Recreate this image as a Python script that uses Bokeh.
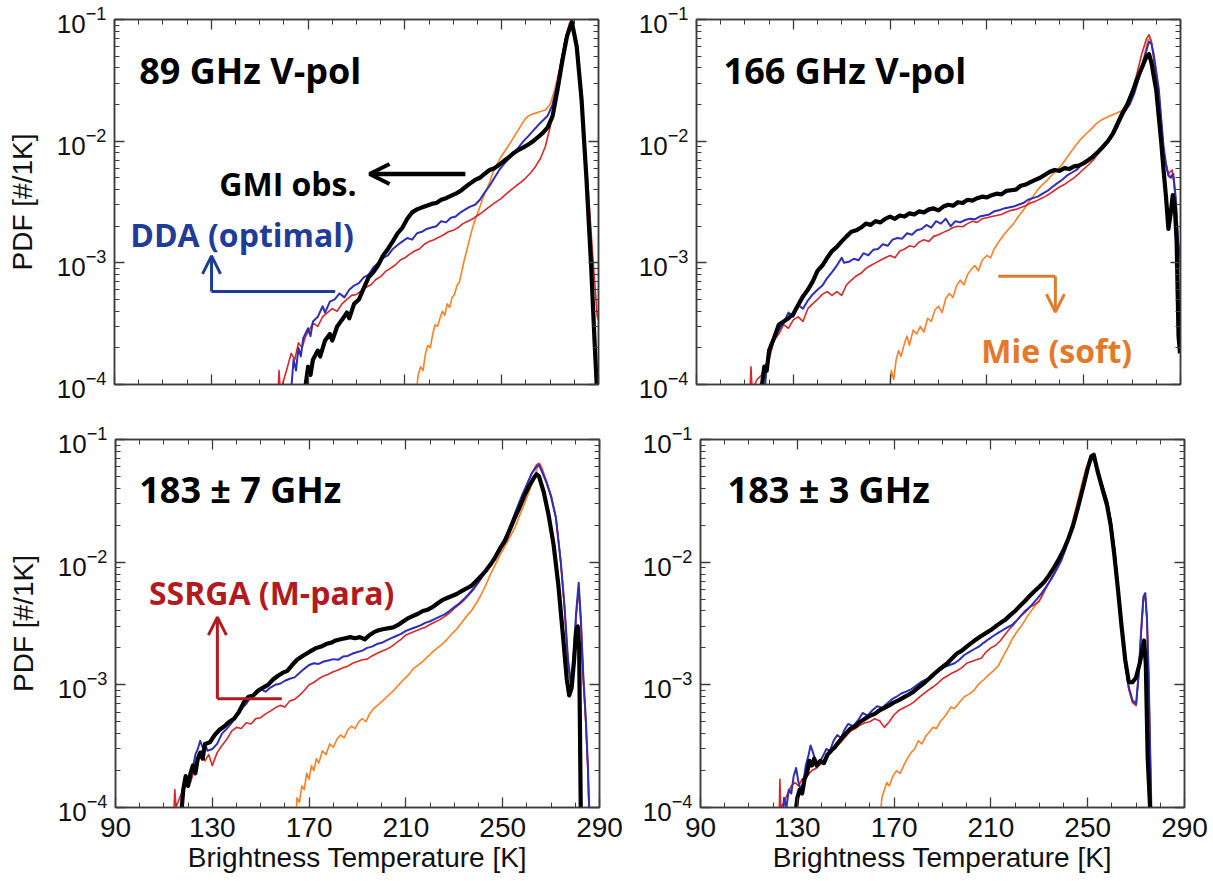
from bokeh.plotting import figure
from bokeh.layouts import column, row
from bokeh.models import (Label, Arrow, OpenHead, FixedTicker, LinearAxis, LogAxis,
                          LogTicker, CustomJSTickFormatter, Range1d)
from bokeh.embed import file_html
from bokeh.resources import INLINE

# ---------------- data ----------------
X_MAJOR_TICKS = [90, 130, 170, 210, 250, 290]
X_MINOR_TICKS = [100, 110, 120, 140, 150, 160, 180, 190, 200, 220, 230, 240, 260, 270, 280]

PANEL_TITLES = ["89 GHz V-pol", "166 GHz V-pol", "183 \u00b1 7 GHz", "183 \u00b1 3 GHz"]

# ---- 89 GHz V-pol ----
TL_GMI = [(169,1.0e-4),(170,1.4e-4),(171,1.2e-4),(172,1.6e-4),(174,1.9e-4),(175,1.7e-4),(177,2.3e-4),
          (179,2.6e-4),(180,2.3e-4),(182,3.0e-4),(184,3.4e-4),(186,3.9e-4),(187,3.5e-4),(189,4.6e-4),
          (191,5.0e-4),(193,6.2e-4),(195,7.6e-4),(197,8.4e-4),(199,9.6e-4),(201,1.15e-3),(203,1.3e-3),
          (205,1.5e-3),(207,1.75e-3),(209,1.95e-3),(211,2.3e-3),(213,2.6e-3),(215,2.75e-3),(217,2.85e-3),
          (219,2.95e-3),(221,3.05e-3),(223,3.1e-3),(225,3.3e-3),(227,3.4e-3),(229,3.55e-3),(231,3.7e-3),
          (233,3.9e-3),(235,4.2e-3),(237,4.5e-3),(239,4.8e-3),(241,5.0e-3),(243,5.4e-3),(245,5.8e-3),
          (247,6.0e-3),(249,6.4e-3),(251,6.9e-3),(253,7.4e-3),(255,8.0e-3),(257,8.5e-3),(259,8.9e-3),
          (261,9.4e-3),(263,1.0e-2),(265,1.08e-2),(267,1.17e-2),(269,1.3e-2),(271,1.6e-2),(273,2.6e-2),
          (275,4.5e-2),(277,7.3e-2),(279,9.5e-2),(281,6.0e-2),(283,2.2e-2),(285,5.0e-3),(287,9.0e-4),
          (288.5,2.0e-4),(289.5,8e-5)]
TL_DDA = [(163,9e-5),(164,1.6e-4),(165,1.3e-4),(166,2.0e-4),(167,1.7e-4),(168,2.4e-4),(170,2.9e-4),
          (171,2.5e-4),(172,3.3e-4),(174,3.6e-4),(176,4.4e-4),(177,3.9e-4),(179,4.8e-4),(181,5.0e-4),
          (183,5.6e-4),(185,5.2e-4),(187,6.0e-4),(189,6.5e-4),(191,6.8e-4),(193,7.6e-4),(195,8.0e-4),
          (197,9.2e-4),(199,1.0e-3),(201,1.1e-3),(203,1.15e-3),(205,1.3e-3),(207,1.4e-3),(209,1.5e-3),
          (211,1.6e-3),(213,1.55e-3),(215,1.75e-3),(217,1.8e-3),(219,1.9e-3),(221,1.95e-3),(223,2.0e-3),
          (225,2.2e-3),(227,2.15e-3),(229,2.35e-3),(231,2.4e-3),(233,2.6e-3),(235,2.75e-3),(237,2.9e-3),
          (239,3.0e-3),(241,3.3e-3),(243,3.8e-3),(245,4.3e-3),(247,5.0e-3),(249,5.8e-3),(251,6.5e-3),
          (253,7.2e-3),(255,8.0e-3),(257,8.9e-3),(259,1.0e-2),(261,1.1e-2),(263,1.22e-2),(265,1.35e-2),
          (267,1.48e-2),(269,1.62e-2),(271,2.0e-2),(273,3.0e-2),(275,5.0e-2),(277,7.8e-2),(279,9.6e-2),
          (281,6.2e-2),(283,2.3e-2),(285,5.5e-3),(287,1.0e-3),(288.5,2.2e-4),(289.3,8e-5)]
TL_SSRGA = [(157.5,8e-5),(158,1.3e-4),(158.5,9e-5),(160,1.1e-4),(161.5,1.4e-4),(163,1.8e-4),(164.5,1.6e-4),
            (166,2.2e-4),(167.5,2.0e-4),(169,2.5e-4),(170.5,2.8e-4),(172,3.2e-4),(174,3.0e-4),(176,3.6e-4),
            (178,3.9e-4),(180,4.2e-4),(182,4.0e-4),(184,4.6e-4),(186,5.0e-4),(188,5.4e-4),(190,5.5e-4),
            (192,5.9e-4),(194,6.3e-4),(196,6.6e-4),(198,7.3e-4),(200,7.7e-4),(202,8.5e-4),(204,9.0e-4),
            (206,9.6e-4),(208,1.05e-3),(210,1.1e-3),(212,1.18e-3),(214,1.25e-3),(216,1.3e-3),(218,1.42e-3),
            (220,1.5e-3),(222,1.55e-3),(224,1.62e-3),(226,1.7e-3),(228,1.8e-3),(230,1.85e-3),(232,1.95e-3),
            (234,2.1e-3),(236,2.2e-3),(238,2.3e-3),(240,2.45e-3),(242,2.6e-3),(244,2.8e-3),(246,3.0e-3),
            (248,3.2e-3),(250,3.4e-3),(252,3.7e-3),(254,4.0e-3),(256,4.3e-3),(258,4.6e-3),(260,5.0e-3),
            (262,5.5e-3),(264,6.2e-3),(266,7.2e-3),(268,9.0e-3),(270,1.3e-2),(272,2.2e-2),(274,3.9e-2),
            (276,6.5e-2),(278,9.3e-2),(279,1.0e-1),(281,6.5e-2),(283,2.5e-2),(285,6.5e-3),(286.5,2.4e-3),
            (288,9.0e-4),(289.5,3.6e-4),(290,3.4e-4)]
TL_MIE = [(214.5,8e-5),(215.5,1.2e-4),(216.5,1.4e-4),(217.5,1.3e-4),(218.5,1.8e-4),(219.5,2.1e-4),
          (220.5,2.0e-4),(221.5,2.6e-4),(222.5,3.1e-4),(223.5,3.0e-4),(224.5,3.5e-4),(225.5,4.0e-4),
          (226.5,3.7e-4),(227.5,4.6e-4),(228.5,4.3e-4),(229.5,5.2e-4),(230.5,5.5e-4),(231.5,6.5e-4),
          (232.5,6.9e-4),(233.5,8.5e-4),(234.5,1.05e-3),(235.5,1.25e-3),(236.5,1.5e-3),(237.5,1.8e-3),
          (238.5,2.1e-3),(239.5,2.4e-3),(240.5,2.7e-3),(242,3.3e-3),(243.5,3.9e-3),(245,4.6e-3),
          (246.5,5.6e-3),(248,6.4e-3),(249.5,7.3e-3),(251,8.1e-3),(252.5,9.0e-3),(254,1.0e-2),
          (255.5,1.12e-2),(257,1.25e-2),(258.5,1.4e-2),(260,1.55e-2),(262,1.65e-2),(264,1.7e-2),
          (266,1.75e-2),(268,1.8e-2),(270,2.0e-2),(272,2.7e-2),(274,4.0e-2),(276,6.5e-2),(278,9.0e-2),
          (279,9.7e-2),(281,6.0e-2),(283,2.3e-2),(285,5.5e-3),(287,1.0e-3),(288.5,2.3e-4),(289.3,8e-5)]

# ---- 166 GHz V-pol ----
TR_GMI = [(116.5,8e-5),(118,1.4e-4),(119,1.3e-4),(120,1.9e-4),(122,2.4e-4),(124,3.1e-4),(126,3.3e-4),
          (128,3.5e-4),(130,3.8e-4),(132,4.5e-4),(134,5.3e-4),(136,6.0e-4),(138,7.0e-4),(140,8.6e-4),
          (142,9.5e-4),(144,1.1e-3),(146,1.25e-3),(148,1.35e-3),(150,1.5e-3),(152,1.65e-3),(154,1.8e-3),
          (156,1.85e-3),(158,1.95e-3),(160,2.1e-3),(162,2.05e-3),(164,2.2e-3),(166,2.15e-3),(168,2.3e-3),
          (170,2.4e-3),(172,2.3e-3),(174,2.45e-3),(176,2.4e-3),(178,2.55e-3),(180,2.5e-3),(182,2.65e-3),
          (184,2.6e-3),(186,2.75e-3),(188,2.8e-3),(190,2.7e-3),(192,2.9e-3),(194,3.0e-3),(196,2.95e-3),
          (198,3.15e-3),(200,3.1e-3),(202,3.3e-3),(204,3.25e-3),(206,3.4e-3),(208,3.5e-3),(210,3.45e-3),
          (212,3.6e-3),(214,3.7e-3),(216,3.65e-3),(218,3.9e-3),(220,3.95e-3),(222,4.0e-3),(224,4.3e-3),
          (226,4.4e-3),(228,4.6e-3),(230,4.8e-3),(232,5.0e-3),(234,5.3e-3),(236,5.6e-3),(238,5.8e-3),
          (240,5.7e-3),(242,6.0e-3),(244,5.9e-3),(246,6.2e-3),(248,6.3e-3),(250,6.6e-3),(252,7.0e-3),
          (254,7.5e-3),(256,8.2e-3),(258,9.0e-3),(260,1.0e-2),(262,1.15e-2),(264,1.4e-2),(266,1.7e-2),
          (268,2.0e-2),(270,2.5e-2),(272,3.2e-2),(274,4.0e-2),(276,5.0e-2),(277,5.2e-2),(278,4.4e-2),
          (280,2.6e-2),(282,1.0e-2),(283,5.8e-3),(284,3.5e-3),(285,1.9e-3),(286,2.6e-3),(286.8,3.6e-3),
          (287.6,3.0e-3),(288.4,1.5e-3),(289.2,2.5e-4),(289.8,1.8e-4)]
TR_DDA = [(118,8e-5),(119,1.4e-4),(120,1.8e-4),(122,2.3e-4),(124,2.8e-4),(126,3.2e-4),(128,3.9e-4),
          (130,3.6e-4),(132,4.5e-4),(134,4.2e-4),(136,4.9e-4),(138,5.5e-4),(140,6.0e-4),(142,6.5e-4),
          (144,7.5e-4),(146,8.4e-4),(148,9.5e-4),(150,1.1e-3),(151,1.0e-3),(153,1.02e-3),(155,1.08e-3),
          (157,1.05e-3),(159,1.2e-3),(161,1.15e-3),(163,1.28e-3),(165,1.3e-3),(167,1.42e-3),(169,1.38e-3),
          (171,1.55e-3),(173,1.6e-3),(175,1.58e-3),(177,1.75e-3),(179,1.7e-3),(181,1.85e-3),(183,1.9e-3),
          (185,2.05e-3),(187,1.95e-3),(189,2.2e-3),(191,2.1e-3),(193,2.3e-3),(195,2.0e-3),(197,2.2e-3),
          (199,2.15e-3),(201,2.25e-3),(203,2.3e-3),(205,2.28e-3),(207,2.4e-3),(209,2.45e-3),(211,2.5e-3),
          (213,2.65e-3),(215,2.7e-3),(217,2.8e-3),(219,2.85e-3),(221,2.9e-3),(223,3.0e-3),(225,3.1e-3),
          (227,3.3e-3),(229,3.4e-3),(231,3.5e-3),(233,3.7e-3),(235,3.9e-3),(237,4.2e-3),(239,4.5e-3),
          (241,4.8e-3),(243,5.2e-3),(245,5.5e-3),(247,5.8e-3),(249,6.4e-3),(251,6.9e-3),(253,7.4e-3),
          (255,7.9e-3),(257,8.8e-3),(259,9.6e-3),(261,1.05e-2),(263,1.2e-2),(265,1.45e-2),(267,1.75e-2),
          (269,2.0e-2),(271,2.5e-2),(273,3.4e-2),(275,4.8e-2),(277,6.6e-2),(278,6.3e-2),(279,5.0e-2),
          (281,2.7e-2),(283,9.0e-3),(284,6.5e-3),(285,5.2e-3),(286,5.0e-3),(287,5.4e-3),(288,3.5e-3),
          (289,1.5e-3),(290,1.1e-3)]
TR_SSRGA = [(112,8e-5),(112.5,1.4e-4),(113,9e-5),(115,1.1e-4),(117,1.2e-4),(118.5,1.45e-4),(120,1.6e-4),
            (122,2.3e-4),(124,2.6e-4),(126,3.1e-4),(128,2.9e-4),(130,3.4e-4),(132,3.6e-4),(134,3.3e-4),
            (136,4.2e-4),(138,4.6e-4),(140,5.0e-4),(142,5.5e-4),(144,5.8e-4),(146,5.4e-4),(148,5.8e-4),
            (150,5.4e-4),(152,6.6e-4),(154,7.2e-4),(156,7.8e-4),(158,8.2e-4),(160,9.0e-4),(162,9.5e-4),
            (164,1.0e-3),(166,1.05e-3),(168,1.1e-3),(170,1.15e-3),(172,1.1e-3),(174,1.25e-3),(176,1.3e-3),
            (178,1.38e-3),(180,1.35e-3),(182,1.48e-3),(184,1.55e-3),(186,1.5e-3),(188,1.65e-3),(190,1.7e-3),
            (192,1.78e-3),(194,1.85e-3),(196,1.95e-3),(198,2.0e-3),(200,1.98e-3),(202,2.1e-3),(204,2.2e-3),
            (206,2.15e-3),(208,2.3e-3),(210,2.35e-3),(212,2.4e-3),(214,2.45e-3),(216,2.5e-3),(218,2.6e-3),
            (220,2.7e-3),(222,2.75e-3),(224,2.85e-3),(226,2.95e-3),(228,3.1e-3),(230,3.2e-3),(232,3.35e-3),
            (234,3.5e-3),(236,3.7e-3),(238,3.95e-3),(240,4.2e-3),(242,4.4e-3),(244,4.7e-3),(246,5.0e-3),
            (248,5.4e-3),(250,5.9e-3),(252,6.4e-3),(254,7.0e-3),(256,7.9e-3),(258,8.9e-3),(260,1.0e-2),
            (262,1.1e-2),(264,1.3e-2),(266,1.7e-2),(268,2.1e-2),(270,2.6e-2),(272,3.6e-2),(274,5.2e-2),
            (276,7.0e-2),(277,7.5e-2),(278,6.6e-2),(280,3.2e-2),(282,1.2e-2),(283.5,6.8e-3),(285,5.4e-3),
            (286.5,5.8e-3),(287.5,4.2e-3),(288.5,2.0e-3),(289.5,1.0e-3),(290,9e-4)]
TR_MIE = [(169.5,8e-5),(170.5,1.3e-4),(171.5,1.1e-4),(172.5,1.6e-4),(173.5,1.9e-4),(174.5,1.7e-4),
          (176,2.2e-4),(177,2.5e-4),(178,2.1e-4),(179.5,2.8e-4),(181,2.6e-4),(182.5,3.0e-4),(184,2.7e-4),
          (185.5,3.5e-4),(187,3.3e-4),(188.5,4.1e-4),(190,4.4e-4),(191.5,3.9e-4),(193,5.1e-4),(194.5,5.6e-4),
          (196,5.2e-4),(197.5,6.5e-4),(199,7.2e-4),(200.5,6.6e-4),(202,8.0e-4),(203.5,8.8e-4),(205,9.5e-4),
          (206.5,8.6e-4),(208,1.05e-3),(210,1.15e-3),(211.5,1.1e-3),(213,1.3e-3),(215,1.5e-3),(217,1.7e-3),
          (219,1.9e-3),(221,2.1e-3),(223,2.4e-3),(225,2.7e-3),(227,3.1e-3),(229,3.5e-3),(231,4.0e-3),
          (233,4.4e-3),(235,4.8e-3),(237,5.3e-3),(239,5.8e-3),(241,6.4e-3),(243,7.3e-3),(245,8.3e-3),
          (247,9.4e-3),(249,1.05e-2),(251,1.15e-2),(253,1.25e-2),(255,1.38e-2),(257,1.48e-2),(259,1.55e-2),
          (261,1.62e-2),(263,1.68e-2),(265,1.75e-2),(267,1.85e-2),(269,2.1e-2),(271,2.6e-2),(273,3.5e-2),
          (275,5.0e-2),(276.5,6.8e-2),(277.5,7.0e-2),(279,5.2e-2),(281,2.7e-2),(283,8.5e-3),(285,5.3e-3),
          (287,5.2e-3),(288.5,2.5e-3),(289.5,1.1e-3)]

# ---- 183 +/- 7 GHz ----
BL_GMI = [(117,8e-5),(118,1.4e-4),(119,1.8e-4),(120,1.5e-4),(121,1.9e-4),(122,2.2e-4),(123,1.9e-4),
          (124,2.5e-4),(125,2.8e-4),(126,2.5e-4),(127,3.3e-4),(129,3.4e-4),(131,3.9e-4),(133,4.3e-4),
          (135,4.6e-4),(137,5.0e-4),(139,5.3e-4),(141,6.0e-4),(143,7.2e-4),(145,8.0e-4),(147,8.2e-4),
          (149,9.0e-4),(151,9.5e-4),(153,1.0e-3),(155,1.1e-3),(157,1.18e-3),(159,1.25e-3),(161,1.3e-3),
          (163,1.45e-3),(165,1.6e-3),(167,1.7e-3),(169,1.8e-3),(171,1.9e-3),(173,2.0e-3),(175,2.05e-3),
          (177,2.15e-3),(179,2.2e-3),(181,2.3e-3),(183,2.35e-3),(185,2.4e-3),(187,2.45e-3),(189,2.4e-3),
          (191,2.45e-3),(193,2.35e-3),(195,2.55e-3),(197,2.7e-3),(199,2.8e-3),(201,2.85e-3),(203,2.9e-3),
          (205,2.95e-3),(207,3.1e-3),(209,3.3e-3),(211,3.5e-3),(213,3.65e-3),(215,3.8e-3),(217,4.0e-3),
          (219,4.1e-3),(221,4.3e-3),(223,4.6e-3),(225,4.9e-3),(227,5.1e-3),(229,5.3e-3),(231,5.5e-3),
          (233,5.8e-3),(235,6.1e-3),(237,6.4e-3),(239,7.0e-3),(241,7.7e-3),(243,8.5e-3),(245,9.6e-3),
          (247,1.1e-2),(249,1.3e-2),(251,1.5e-2),(253,1.85e-2),(255,2.3e-2),(257,2.8e-2),(259,3.5e-2),
          (261,4.2e-2),(263,4.9e-2),(264,5.2e-2),(265,5.0e-2),(267,3.7e-2),(269,2.4e-2),(271,1.4e-2),
          (273,6.5e-3),(275,2.4e-3),(276.5,1.1e-3),(277.5,8.2e-4),(278.5,9.5e-4),(279.5,1.6e-3),
          (280.3,2.7e-3),(281,3.0e-3),(281.6,2.0e-3),(282,3e-4),(282.3,8e-5)]
BL_DDA = [(117,8e-5),(118,1.3e-4),(119,1.7e-4),(120,1.5e-4),(121,1.9e-4),(122,2.1e-4),(123,2.7e-4),
          (124,3.0e-4),(125,3.5e-4),(126,3.1e-4),(127,3.3e-4),(128,2.9e-4),(130,3.0e-4),(132,3.3e-4),
          (134,4.0e-4),(136,4.4e-4),(138,4.9e-4),(140,5.6e-4),(142,6.3e-4),(144,7.0e-4),(146,8.0e-4),
          (148,8.6e-4),(150,9.2e-4),(152,8.8e-4),(154,9.5e-4),(156,1.0e-3),(158,1.02e-3),(160,1.08e-3),
          (162,1.12e-3),(164,1.15e-3),(166,1.25e-3),(168,1.35e-3),(170,1.45e-3),(172,1.5e-3),(174,1.48e-3),
          (176,1.55e-3),(178,1.58e-3),(180,1.62e-3),(182,1.6e-3),(184,1.7e-3),(186,1.72e-3),(188,1.8e-3),
          (190,1.85e-3),(192,1.9e-3),(194,2.0e-3),(196,2.05e-3),(198,2.15e-3),(200,2.2e-3),(202,2.3e-3),
          (204,2.4e-3),(206,2.5e-3),(208,2.6e-3),(210,2.75e-3),(212,2.85e-3),(214,2.95e-3),(216,3.05e-3),
          (218,3.2e-3),(220,3.3e-3),(222,3.45e-3),(224,3.6e-3),(226,3.75e-3),(228,4.0e-3),(230,4.3e-3),
          (232,4.6e-3),(234,5.0e-3),(236,5.5e-3),(238,6.1e-3),(240,6.9e-3),(242,7.9e-3),(244,9.0e-3),
          (246,1.05e-2),(248,1.25e-2),(250,1.45e-2),(252,1.75e-2),(254,2.2e-2),(256,2.8e-2),(258,3.5e-2),
          (260,4.3e-2),(262,5.3e-2),(264,6.0e-2),(265,6.2e-2),(266,5.6e-2),(268,4.5e-2),(270,3.4e-2),
          (272,2.3e-2),(274,1.0e-2),(275.5,4.5e-3),(277,1.6e-3),(278.3,1.0e-3),(279.3,1.7e-3),
          (280.3,3.8e-3),(281.4,6.8e-3),(282.3,3.5e-3),(283.3,1.2e-3),(284.3,5.5e-4),(285.2,2.2e-4),
          (285.8,9e-5)]
BL_SSRGA = [(114,8e-5),(114.5,1.4e-4),(115,1.0e-4),(116.5,1.2e-4),(118,1.4e-4),(119.5,1.7e-4),(121,1.6e-4),
            (122.5,2.0e-4),(124,2.5e-4),(125.5,2.9e-4),(127,2.4e-4),(128.5,2.7e-4),(130,2.2e-4),(132,2.8e-4),
            (134,3.2e-4),(136,3.6e-4),(138,4.2e-4),(140,4.5e-4),(142,4.4e-4),(144,4.9e-4),(146,4.8e-4),
            (148,5.3e-4),(150,5.4e-4),(152,5.8e-4),(154,6.1e-4),(156,6.5e-4),(158,6.8e-4),(160,6.6e-4),
            (162,7.4e-4),(164,7.6e-4),(166,8.2e-4),(168,9.0e-4),(170,1.0e-3),(172,1.05e-3),(174,1.12e-3),
            (176,1.18e-3),(178,1.22e-3),(180,1.28e-3),(182,1.32e-3),(184,1.38e-3),(186,1.42e-3),(188,1.5e-3),
            (190,1.55e-3),(192,1.6e-3),(194,1.62e-3),(196,1.72e-3),(198,1.8e-3),(200,1.88e-3),(202,1.95e-3),
            (204,2.05e-3),(206,2.2e-3),(208,2.35e-3),(210,2.55e-3),(212,2.65e-3),(214,2.75e-3),(216,2.85e-3),
            (218,2.95e-3),(220,3.1e-3),(222,3.25e-3),(224,3.4e-3),(226,3.6e-3),(228,3.85e-3),(230,4.2e-3),
            (232,4.5e-3),(234,4.9e-3),(236,5.4e-3),(238,6.0e-3),(240,6.8e-3),(242,7.8e-3),(244,8.8e-3),
            (246,1.03e-2),(248,1.22e-2),(250,1.42e-2),(252,1.72e-2),(254,2.15e-2),(256,2.75e-2),(258,3.45e-2),
            (260,4.3e-2),(262,5.3e-2),(264,6.2e-2),(265,6.4e-2),(266,5.8e-2),(268,4.6e-2),(270,3.5e-2),
            (272,2.3e-2),(274,1.0e-2),(275.5,4.3e-3),(277,1.5e-3),(278.3,9.5e-4),(279.3,1.6e-3),
            (280.3,3.5e-3),(281.4,6.0e-3),(282.3,3.2e-3),(283.3,1.1e-3),(284.3,5.0e-4),(285.2,2.0e-4),
            (285.7,9e-5)]
BL_MIE = [(164.5,8e-5),(165,1.2e-4),(166,1.1e-4),(167,1.5e-4),(168,1.4e-4),(169,1.9e-4),(170,1.7e-4),
          (171,2.2e-4),(172,2.0e-4),(173,2.5e-4),(174,2.3e-4),(175.5,2.9e-4),(177,2.7e-4),(178.5,3.3e-4),
          (180,3.1e-4),(181.5,3.6e-4),(183,3.9e-4),(184.5,3.7e-4),(186,4.3e-4),(187.5,4.6e-4),(189,4.4e-4),
          (190.5,5.0e-4),(192,5.3e-4),(193.5,5.0e-4),(195,5.8e-4),(197,6.5e-4),(199,7.0e-4),(201,7.6e-4),
          (203,8.3e-4),(205,9.0e-4),(207,1.0e-3),(209,1.1e-3),(211,1.2e-3),(213,1.35e-3),(215,1.45e-3),
          (217,1.55e-3),(219,1.7e-3),(221,1.85e-3),(223,2.0e-3),(225,2.15e-3),(227,2.35e-3),(229,2.6e-3),
          (231,2.85e-3),(233,3.2e-3),(235,3.6e-3),(237,4.0e-3),(239,4.6e-3),(241,5.4e-3),(243,6.5e-3),
          (245,8.0e-3),(247,9.6e-3),(249,1.15e-2),(251,1.35e-2),(253,1.6e-2),(255,1.9e-2),(257,2.4e-2),
          (259,3.0e-2),(261,3.8e-2),(263,4.9e-2),(264.5,6.0e-2),(265.5,6.3e-2),(266.5,5.7e-2),(268,4.6e-2),
          (270,3.5e-2),(272,2.3e-2),(274,1.0e-2),(275.5,4.4e-3),(277,1.5e-3),(278.3,9.7e-4),(279.3,1.6e-3),
          (280.3,3.6e-3),(281.4,6.2e-3),(282.3,3.3e-3),(283.3,1.1e-3),(284.3,5.2e-4),(285.2,2.1e-4),
          (285.7,9e-5)]

# ---- 183 +/- 3 GHz ----
BR_GMI = [(129,8e-5),(130,1.2e-4),(131,1.4e-4),(132,1.3e-4),(133,1.7e-4),(134,1.9e-4),(135,2.4e-4),
          (136,2.2e-4),(137,2.5e-4),(138,2.2e-4),(139.5,2.4e-4),(141,2.3e-4),(142.5,2.7e-4),(144,2.9e-4),
          (145.5,3.1e-4),(147,3.4e-4),(148.5,3.7e-4),(150,4.0e-4),(152,4.4e-4),(154,4.6e-4),(156,5.0e-4),
          (158,5.3e-4),(160,5.6e-4),(162,5.8e-4),(164,6.2e-4),(166,6.5e-4),(168,6.8e-4),(170,7.2e-4),
          (172,7.5e-4),(174,7.9e-4),(176,8.3e-4),(178,8.8e-4),(180,9.5e-4),(182,1.02e-3),(184,1.1e-3),
          (186,1.2e-3),(188,1.3e-3),(190,1.4e-3),(192,1.5e-3),(194,1.65e-3),(196,1.8e-3),(198,1.9e-3),
          (200,2.05e-3),(202,2.2e-3),(204,2.35e-3),(206,2.5e-3),(208,2.65e-3),(210,2.8e-3),(212,3.0e-3),
          (214,3.2e-3),(216,3.4e-3),(218,3.7e-3),(220,4.0e-3),(222,4.4e-3),(224,4.8e-3),(226,5.3e-3),
          (228,5.8e-3),(230,6.3e-3),(232,6.9e-3),(234,7.8e-3),(236,9.0e-3),(238,1.05e-2),(240,1.25e-2),
          (242,1.55e-2),(244,2.0e-2),(246,2.8e-2),(248,4.0e-2),(250,5.8e-2),(251.5,7.3e-2),(252.5,7.5e-2),
          (254,5.6e-2),(256,4.0e-2),(258,2.9e-2),(259.5,2.0e-2),(261,1.15e-2),(262.5,6.0e-3),(264,3.0e-3),
          (265.5,1.6e-3),(267,1.05e-3),(268.5,1.05e-3),(270,1.15e-3),(271.5,1.5e-3),(272.5,1.9e-3),
          (273.3,2.3e-3),(274,1.5e-3),(274.8,2.5e-4),(275.5,1.3e-4),(276,8e-5)]
BR_DDA = [(124,8e-5),(124.5,1.2e-4),(125.5,1.0e-4),(126.5,1.4e-4),(127.5,1.3e-4),(128.5,1.8e-4),
          (129.5,2.1e-4),(130.5,1.6e-4),(131.5,1.4e-4),(132.5,1.6e-4),(133.5,2.2e-4),(134.5,2.6e-4),
          (135.5,3.2e-4),(136.5,2.8e-4),(137.5,2.4e-4),(139,2.3e-4),(140.5,2.6e-4),(142,3.0e-4),
          (143.5,2.9e-4),(145,3.5e-4),(146.5,3.9e-4),(148,3.7e-4),(149.5,4.3e-4),(151,4.8e-4),(153,4.6e-4),
          (155,5.1e-4),(157,5.9e-4),(159,5.6e-4),(161,6.2e-4),(163,6.7e-4),(165,6.5e-4),(167,7.0e-4),
          (169,7.6e-4),(171,8.0e-4),(173,8.5e-4),(175,8.8e-4),(177,9.2e-4),(179,9.8e-4),(181,1.05e-3),
          (183,1.1e-3),(185,1.15e-3),(187,1.25e-3),(189,1.32e-3),(191,1.4e-3),(193,1.45e-3),(195,1.5e-3),
          (197,1.6e-3),(199,1.75e-3),(201,1.85e-3),(203,1.95e-3),(205,2.05e-3),(207,2.2e-3),(209,2.35e-3),
          (211,2.5e-3),(213,2.65e-3),(215,2.8e-3),(217,2.95e-3),(219,3.1e-3),(221,3.4e-3),(223,3.75e-3),
          (225,4.1e-3),(227,4.5e-3),(229,5.0e-3),(231,5.6e-3),(233,6.4e-3),(235,7.3e-3),(237,8.6e-3),
          (239,1.02e-2),(241,1.3e-2),(243,1.75e-2),(245,2.4e-2),(247,3.5e-2),(249,5.0e-2),(251,6.6e-2),
          (252.5,7.1e-2),(254,5.8e-2),(256,4.3e-2),(258,3.2e-2),(259.5,2.2e-2),(261,1.3e-2),(262.5,6.5e-3),
          (264,3.1e-3),(265.5,1.6e-3),(267,9.5e-4),(268.5,7.5e-4),(270,7.0e-4),(271,1.2e-3),(272,2.6e-3),
          (273,5.2e-3),(273.8,5.6e-3),(274.5,3.5e-3),(275.2,1.2e-3),(275.8,3e-4),(276.4,8e-5)]
BR_SSRGA = [(122.5,8e-5),(122.8,1.7e-4),(123.2,1.0e-4),(124.5,1.1e-4),(126,1.3e-4),(127.5,1.5e-4),
            (129,1.6e-4),(130.5,1.5e-4),(132,1.7e-4),(134,1.8e-4),(136,2.0e-4),(138,2.1e-4),(140,2.3e-4),
            (142,2.6e-4),(144,2.9e-4),(146,3.1e-4),(148,3.4e-4),(150,3.8e-4),(152,4.2e-4),(154,4.4e-4),
            (156,4.7e-4),(158,4.9e-4),(160,5.0e-4),(162,5.3e-4),(164,5.1e-4),(166,4.5e-4),(168,5.0e-4),
            (170,5.7e-4),(172,6.2e-4),(174,6.5e-4),(176,6.8e-4),(178,7.2e-4),(180,7.8e-4),(182,8.4e-4),
            (184,9.0e-4),(186,9.6e-4),(188,1.03e-3),(190,1.12e-3),(192,1.18e-3),(194,1.25e-3),(196,1.3e-3),
            (198,1.38e-3),(200,1.5e-3),(202,1.55e-3),(204,1.6e-3),(206,1.65e-3),(208,1.85e-3),(210,2.0e-3),
            (212,2.1e-3),(214,2.3e-3),(216,2.6e-3),(218,2.9e-3),(220,3.2e-3),(222,3.6e-3),(224,4.0e-3),
            (226,4.3e-3),(228,4.5e-3),(230,4.8e-3),(232,5.8e-3),(234,6.8e-3),(236,8.0e-3),(238,9.6e-3),
            (240,1.18e-2),(242,1.5e-2),(244,2.05e-2),(246,2.9e-2),(248,4.2e-2),(250,5.9e-2),(251.5,7.2e-2),
            (252.5,7.4e-2),(254,5.8e-2),(256,4.3e-2),(258,3.2e-2),(259.5,2.2e-2),(261,1.3e-2),(262.5,6.4e-3),
            (264,3.0e-3),(265.5,1.5e-3),(267,9.2e-4),(268.5,7.2e-4),(270,6.8e-4),(271,1.15e-3),(272,2.5e-3),
            (273,4.9e-3),(273.8,5.3e-3),(274.5,3.3e-3),(275.2,1.1e-3),(275.8,3e-4),(276.3,8e-5)]
BR_MIE = [(164,8e-5),(165,1.2e-4),(166,1.4e-4),(167,1.6e-4),(168,1.5e-4),(169.5,1.8e-4),(171,2.0e-4),
          (172.5,1.9e-4),(174,2.2e-4),(175.5,2.5e-4),(177,2.8e-4),(178.5,3.0e-4),(180,3.5e-4),(181.5,3.3e-4),
          (183,3.8e-4),(184.5,4.1e-4),(186,4.5e-4),(187.5,4.4e-4),(189,5.0e-4),(190.5,5.4e-4),(192,5.9e-4),
          (193.5,6.6e-4),(195,6.4e-4),(197,7.2e-4),(199,8.0e-4),(201,8.4e-4),(203,9.0e-4),(205,1.02e-3),
          (207,1.1e-3),(209,1.2e-3),(211,1.3e-3),(213,1.42e-3),(215,1.7e-3),(217,2.0e-3),(219,2.4e-3),
          (221,2.75e-3),(223,3.1e-3),(225,3.6e-3),(227,4.1e-3),(229,4.6e-3),(231,5.2e-3),(233,6.2e-3),
          (235,7.5e-3),(237,9.0e-3),(239,1.1e-2),(241,1.4e-2),(243,1.9e-2),(245,2.7e-2),(247,3.9e-2),
          (249,5.6e-2),(251,7.2e-2),(252.5,7.6e-2),(254,5.8e-2),(256,4.3e-2),(258,3.2e-2),(259.5,2.2e-2),
          (261,1.3e-2),(262.5,6.4e-3),(264,3.0e-3),(265.5,1.5e-3),(267,9.2e-4),(268.5,7.2e-4),(270,6.8e-4),
          (271,1.15e-3),(272,2.5e-3),(273,4.9e-3),(273.8,5.3e-3),(274.5,3.3e-3),(275.2,1.1e-3),(275.8,3e-4),
          (276.3,8e-5)]

# ---------------- styling ----------------
COL_GMI = "#000000"
COL_DDA = "#2f2fb4"
COL_SSRGA = "#d62828"
COL_MIE = "#ff7f24"
TXT_DDA = "#1e3c98"
TXT_MIE = "#e27a2c"
TXT_SSRGA = "#b11a1e"
FRAME = "#3c3c3c"
TICK_FONT = "Liberation Sans"
ANN_FONT = "Open Sans"


def style_axis(ax, show_labels, size="28px"):
    ax.major_tick_in = 10
    ax.major_tick_out = 0
    ax.minor_tick_in = 5
    ax.minor_tick_out = 0
    ax.axis_line_color = FRAME
    ax.axis_line_width = 1.5
    ax.major_tick_line_color = FRAME
    ax.major_tick_line_width = 1.3
    ax.minor_tick_line_color = FRAME
    ax.minor_tick_line_width = 1
    ax.major_label_text_font = TICK_FONT
    ax.major_label_text_font_size = size
    ax.major_label_text_color = "#111111"
    ax.axis_label_text_font = TICK_FONT
    ax.axis_label_text_font_size = "28px"
    ax.axis_label_text_font_style = "normal"
    ax.axis_label_text_color = "#111111"
    if not show_labels:
        ax.formatter = CustomJSTickFormatter(code="return ''")
        ax.major_label_text_font_size = "0px"


def make_panel(series, title, title_xy, left, right, top, bottom, fheight, xlabels, ylabel):
    p = figure(frame_width=484, frame_height=fheight,
               x_range=Range1d(90, 290), y_range=Range1d(1e-4, 1e-1),
               y_axis_type="log", output_backend="svg", toolbar_location=None,
               min_border_left=left, min_border_right=right,
               min_border_top=top, min_border_bottom=bottom)
    p.xgrid.visible = False
    p.ygrid.visible = False
    p.outline_line_color = FRAME
    p.outline_line_width = 1.5
    p.background_fill_color = "white"
    p.border_fill_color = "white"

    xt = FixedTicker(ticks=X_MAJOR_TICKS, minor_ticks=X_MINOR_TICKS)
    p.xaxis[0].ticker = xt
    style_axis(p.xaxis[0], xlabels)
    p.xaxis[0].major_label_standoff = 10
    if xlabels:
        p.xaxis[0].axis_label = "Brightness Temperature [K]"
        p.xaxis[0].axis_label_standoff = 2
    style_axis(p.yaxis[0], True, "26px")
    p.yaxis[0].major_label_standoff = 8
    if ylabel:
        p.yaxis[0].axis_label = "PDF [#/1K]"
        p.yaxis[0].axis_label_standoff = 16

    top_ax = LinearAxis(ticker=FixedTicker(ticks=X_MAJOR_TICKS, minor_ticks=X_MINOR_TICKS))
    style_axis(top_ax, False)
    p.add_layout(top_ax, "above")
    right_ax = LogAxis(ticker=LogTicker(num_minor_ticks=10))
    style_axis(right_ax, False)
    p.add_layout(right_ax, "right")

    for data, color, width in series:
        xs = [d[0] for d in data]
        ys = [d[1] for d in data]
        p.line(xs, ys, line_color=color, line_width=width, line_join="round")

    p.add_layout(Label(x=title_xy[0], y=title_xy[1], text=title, text_font=ANN_FONT,
                       text_font_style="bold", text_font_size="36px", text_color="#000000",
                       text_baseline="alphabetic"))
    return p


def series_for(mie, ssrga, dda, gmi):
    return [(mie, COL_MIE, 1.6), (ssrga, COL_SSRGA, 1.6), (dda, COL_DDA, 2.0), (gmi, COL_GMI, 4.2)]


p1 = make_panel(series_for(TL_MIE, TL_SSRGA, TL_DDA, TL_GMI), PANEL_TITLES[0], (100.2, 0.0384),
                114, 30, 19, 39, 365, False, True)
p2 = make_panel(series_for(TR_MIE, TR_SSRGA, TR_DDA, TR_GMI), PANEL_TITLES[1], (101.2, 0.0379),
                68, 33, 19, 39, 365, False, False)
p3 = make_panel(series_for(BL_MIE, BL_SSRGA, BL_DDA, BL_GMI), PANEL_TITLES[2], (99.8, 0.0389),
                115, 29, 16, 74, 368, True, True)
p4 = make_panel(series_for(BR_MIE, BR_SSRGA, BR_DDA, BR_GMI), PANEL_TITLES[3], (101.2, 0.0389),
                72, 29, 16, 74, 368, True, False)

# ---------------- annotations ----------------
def ann_text(p, x, y, text, color):
    p.add_layout(Label(x=x, y=y, text=text, text_font=ANN_FONT, text_font_style="bold",
                       text_font_size="32px", text_color=color, text_baseline="alphabetic"))

# GMI obs. (top-left)
ann_text(p1, 133.3, 4.52e-3, "GMI obs.", "#000000")
p1.add_layout(Arrow(end=OpenHead(size=20, line_color="#000000", line_width=4),
                    x_start=235, y_start=5.38e-3, x_end=195.4, y_end=5.38e-3,
                    line_color="#000000", line_width=4.5))
# DDA (optimal)
ann_text(p1, 96.5, 1.71e-3, "DDA (optimal)", TXT_DDA)
p1.add_layout(Arrow(end=None, x_start=181.2, y_start=5.8e-4, x_end=130.1, y_end=5.8e-4,
                    line_color=TXT_DDA, line_width=3))
p1.add_layout(Arrow(end=OpenHead(size=18, line_color=TXT_DDA, line_width=3),
                    x_start=130.1, y_start=5.8e-4, x_end=130.1, y_end=1.14e-3,
                    line_color=TXT_DDA, line_width=3))
# Mie (soft)
ann_text(p2, 207.7, 1.92e-4, "Mie (soft)", TXT_MIE)
p2.add_layout(Arrow(end=None, x_start=214.7, y_start=7.74e-4, x_end=238.3, y_end=7.74e-4,
                    line_color=TXT_MIE, line_width=3))
p2.add_layout(Arrow(end=OpenHead(size=18, line_color=TXT_MIE, line_width=3),
                    x_start=238.3, y_start=7.74e-4, x_end=238.3, y_end=3.94e-4,
                    line_color=TXT_MIE, line_width=3))
# SSRGA (M-para)
ann_text(p3, 103.8, 5.69e-3, "SSRGA (M-para)", TXT_SSRGA)
p3.add_layout(Arrow(end=None, x_start=158.7, y_start=7.69e-4, x_end=132.1, y_end=7.69e-4,
                    line_color=TXT_SSRGA, line_width=3))
p3.add_layout(Arrow(end=OpenHead(size=18, line_color=TXT_SSRGA, line_width=3),
                    x_start=132.1, y_start=7.69e-4, x_end=132.1, y_end=3.56e-3,
                    line_color=TXT_SSRGA, line_width=3))

layout = column(row(p1, p2), row(p3, p4))
open("out.html", "w").write(file_html(layout, INLINE))
